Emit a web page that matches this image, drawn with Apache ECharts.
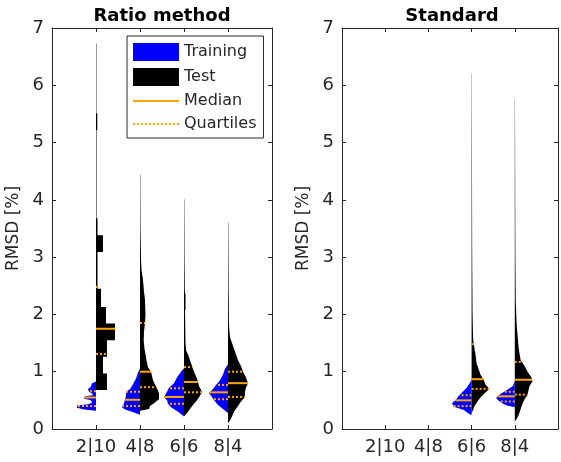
<!DOCTYPE html>
<html>
<head>
<meta charset="utf-8">
<script src="https://cdn.jsdelivr.net/npm/echarts@6/dist/echarts.min.js"></script>
<style>
html, body { margin: 0; padding: 0; background: #fff; }
#chart { width: 561px; height: 462px; }
</style>
</head>
<body>
<div id="chart"></div>
<script>
// tick labels: training|test split
const categories = ['2|10', '4|8', '6|6', '8|4'];

// violin halves as [RMSD %, density]
// ---- Ratio method ----
const ratioTrain210 = [[0.32,0],[0.34,12],[0.37,19],[0.41,19],[0.43,8],[0.46,4],[0.50,5],[0.53,12],[0.57,11],[0.59,3],[0.62,4],[0.65,7],[0.70,8],[0.74,5],[0.80,4],[0.83,0]];
const ratioTest210 = [[0.68,0],[0.68,11],[0.97,11],[0.97,7],[1.26,7],[1.26,11],[1.55,11],[1.55,19],[1.84,19],[1.84,10],[2.13,10],[2.13,5],[2.45,5],[2.45,1.5],[3.09,1.5],[3.09,7],[3.38,7],[3.38,1.5],[3.68,1.5],[3.68,0.5],[5.22,0.5],[5.22,1.3],[5.51,1.3],[5.51,0.4],[6.73,0.4],[6.73,0]];
const ratioTrain48 = [[0.25,0],[0.30,8],[0.34,15],[0.38,18],[0.45,16],[0.52,15],[0.58,14],[0.65,14],[0.70,10],[0.78,7],[0.88,4],[0.98,2],[1.06,0]];
const ratioTest48 = [[0.32,0],[0.35,9],[0.40,10],[0.45,14],[0.52,19],[0.63,19],[0.74,16],[0.85,13],[1.0,11],[1.08,8],[1.2,6.5],[1.4,4.5],[1.55,3.7],[1.7,4],[1.85,5],[2.0,5.5],[2.25,5],[2.4,4],[2.6,3],[2.77,1.5],[3.0,1],[3.5,0.5],[4.43,0.3],[4.45,0]];
const ratioTrain66 = [[0.22,0],[0.30,6],[0.38,13],[0.44,16],[0.50,17],[0.56,20],[0.65,17],[0.72,15],[0.80,10],[0.90,7],[1.0,3],[1.06,0]];
const ratioTest66 = [[0.22,0],[0.28,3],[0.35,6],[0.42,9],[0.50,13],[0.58,16],[0.65,18],[0.75,15],[0.83,14],[0.92,12],[1.0,10],[1.1,8],[1.2,6],[1.3,4],[1.38,2],[1.5,1.5],[2.05,1],[2.1,1.5],[2.35,1.5],[2.4,0.8],[3.0,0.5],[4.0,0.3],[4.02,0]];
const ratioTrain84 = [[0.28,0],[0.35,5],[0.42,10],[0.50,14],[0.56,16],[0.63,19],[0.70,15],[0.77,12],[0.85,8],[0.95,5],[1.05,3],[1.13,0]];
const ratioTest84 = [[0.10,0],[0.15,2],[0.22,4],[0.30,6],[0.40,10],[0.48,13],[0.56,17],[0.65,17],[0.72,18],[0.80,20],[0.90,18],[1.0,15],[1.1,13],[1.2,10],[1.3,8],[1.4,6],[1.5,4],[1.6,2],[1.8,1],[2.5,0.6],[3.6,0.3],[3.62,0]];
// [lower quartile, median, upper quartile]
const ratioTrainStats = [[0.40,0.55,0.66],[0.40,0.51,0.65],[0.44,0.56,0.71],[0.52,0.64,0.77]];
const ratioTestStats = [[1.31,1.75,2.48],[0.73,1.00,1.85],[0.64,0.82,1.08],[0.56,0.80,1.00]];

// ---- Standard ----
const stdTrain66 = [[0.24,0],[0.28,4],[0.33,8],[0.39,18],[0.45,20],[0.51,16],[0.58,13],[0.65,9],[0.72,5],[0.80,2],[0.86,0]];
const stdTest66 = [[0.28,0],[0.33,1.5],[0.40,3],[0.48,6],[0.55,9],[0.62,13],[0.70,18],[0.78,14],[0.87,12],[0.95,9],[1.05,7],[1.15,5],[1.3,4],[1.5,2],[1.6,1.5],[2.0,1],[3.0,0.6],[6.2,0.2],[6.22,0]];
const stdTrain84 = [[0.38,0],[0.41,8],[0.45,13],[0.50,17],[0.54,19],[0.58,17],[0.63,13],[0.68,8],[0.75,2],[0.84,0]];
const stdTest84 = [[0.13,0],[0.18,2],[0.25,4],[0.35,6],[0.45,8],[0.52,10],[0.60,13],[0.68,14],[0.75,15],[0.83,18],[0.90,17],[1.0,13],[1.1,10],[1.2,6],[1.4,4],[1.6,3],[1.8,2],[2.2,1],[3.0,0.6],[5.75,0.2],[5.77,0]];
const stdTrainStats = [null, null, [0.40,0.50,0.59], [0.48,0.57,0.65]];
const stdTestStats = [null, null, [0.70,0.87,1.48], [0.60,0.86,1.17]];

const ratioTrain = [ratioTrain210, ratioTrain48, ratioTrain66, ratioTrain84];
const ratioTest = [ratioTest210, ratioTest48, ratioTest66, ratioTest84];
const stdTrain = [null, null, stdTrain66, stdTrain84];
const stdTest = [null, null, stdTest66, stdTest84];

const DENS = 1 / 44;        // density -> x units
const ORANGE = '#ffa500';
const INK = '#262626';
const FONT = 'DejaVu Sans';

function widthAt(prof, v) {
    for (let i = 0; i < prof.length - 1; i++) {
        const a = prof[i], b = prof[i + 1];
        if (b[0] > a[0] && v >= a[0] && v < b[0]) {
            return a[1] + (b[1] - a[1]) * (v - a[0]) / (b[0] - a[0]);
        }
    }
    return 0;
}

function violinHalf(profiles, stats, side) {
    return function (params, api) {
        const x = api.value(0);
        const prof = profiles[x - 1];
        const pt = (v, d) => api.coord([x + side * d * DENS, v]);
        const children = [{
            type: 'polygon',
            shape: { points: prof.map(p => pt(p[0], p[1])) },
            style: { fill: api.visual('color') }
        }];
        stats[x - 1].forEach((v, j) => {
            const a = pt(v, 0), b = pt(v, widthAt(prof, v));
            children.push({
                type: 'line',
                shape: { x1: a[0], y1: a[1], x2: b[0], y2: b[1] },
                style: { stroke: ORANGE, lineWidth: 2, lineDash: j === 1 ? null : [2, 2] }
            });
        });
        return { type: 'group', children: children };
    };
}

function present(arr) {
    const out = [];
    arr.forEach((p, i) => { if (p) out.push([i + 1, 0]); });
    return out;
}

function axesFor(g, yName) {
    const line = { show: true, onZero: false, lineStyle: { color: INK, width: 1 } };
    const tick = { show: true, inside: true, length: 4, lineStyle: { color: INK } };
    return {
        x: [{
            gridIndex: g, type: 'value', min: 0, max: 5, interval: 1, position: 'bottom',
            axisLine: line, axisTick: tick, splitLine: { show: false },
            axisLabel: {
                fontSize: 18, color: INK, fontFamily: FONT, margin: 9,
                formatter: v => categories[v - 1] || ''
            }
        }, {
            gridIndex: g, type: 'value', min: 0, max: 5, interval: 1, position: 'top',
            axisLine: line, axisTick: tick, splitLine: { show: false }, axisLabel: { show: false }
        }],
        y: [{
            gridIndex: g, type: 'value', min: 0, max: 7, interval: 1, position: 'left',
            name: yName, nameLocation: 'middle', nameGap: 30,
            nameTextStyle: { fontSize: 17, color: INK, fontFamily: FONT },
            axisLine: line, axisTick: tick, splitLine: { show: false },
            axisLabel: { fontSize: 18, color: INK, fontFamily: FONT, margin: 8 }
        }, {
            gridIndex: g, type: 'value', min: 0, max: 7, interval: 1, position: 'right',
            axisLine: line, axisTick: tick, splitLine: { show: false }, axisLabel: { show: false }
        }]
    };
}

const a0 = axesFor(0, 'RMSD [%]');
const a1 = axesFor(1, 'RMSD [%]');

const chart = echarts.init(document.getElementById('chart'));
chart.setOption({
    animation: false,
    backgroundColor: '#fff',
    textStyle: { fontFamily: FONT },
    grid: [
        { left: 52, top: 28, width: 220, height: 401 },
        { left: 342, top: 28, width: 220, height: 401 }
    ],
    xAxis: a0.x.concat(a1.x),
    yAxis: a0.y.concat(a1.y),
    graphic: [
        { type: 'text', x: 162, y: 16, style: { text: 'Ratio method', font: 'bold 18px "DejaVu Sans"', fill: '#000', align: 'center', verticalAlign: 'middle' } },
        { type: 'text', x: 452, y: 16, style: { text: 'Standard', font: 'bold 18px "DejaVu Sans"', fill: '#000', align: 'center', verticalAlign: 'middle' } }
    ],
    legend: {
        left: 127, top: 36, orient: 'vertical',
        backgroundColor: '#fff', borderColor: INK, borderWidth: 1,
        padding: [7, 7, 6, 5], itemGap: 7, itemWidth: 46, itemHeight: 18,
        textStyle: { fontSize: 16, color: INK, fontFamily: FONT },
        data: [
            { name: 'Training', icon: 'rect' },
            { name: 'Test', icon: 'rect' },
            { name: 'Median', itemStyle: { opacity: 0 } },
            { name: 'Quartiles', itemStyle: { opacity: 0 } }
        ]
    },
    series: [
        { name: 'Training', type: 'custom', xAxisIndex: 0, yAxisIndex: 0, itemStyle: { color: '#0000ff' },
          data: present(ratioTrain), renderItem: violinHalf(ratioTrain, ratioTrainStats, -1) },
        { name: 'Test', type: 'custom', xAxisIndex: 0, yAxisIndex: 0, itemStyle: { color: '#000' },
          data: present(ratioTest), renderItem: violinHalf(ratioTest, ratioTestStats, 1) },
        { name: 'Training', type: 'custom', xAxisIndex: 2, yAxisIndex: 2, itemStyle: { color: '#0000ff' },
          data: present(stdTrain), renderItem: violinHalf(stdTrain, stdTrainStats, -1) },
        { name: 'Test', type: 'custom', xAxisIndex: 2, yAxisIndex: 2, itemStyle: { color: '#000' },
          data: present(stdTest), renderItem: violinHalf(stdTest, stdTestStats, 1) },
        { name: 'Median', type: 'line', xAxisIndex: 0, yAxisIndex: 0, data: [], symbol: 'none',
          itemStyle: { color: ORANGE }, lineStyle: { color: ORANGE, width: 2 } },
        { name: 'Quartiles', type: 'line', xAxisIndex: 0, yAxisIndex: 0, data: [], symbol: 'none',
          itemStyle: { color: ORANGE }, lineStyle: { color: ORANGE, width: 2, type: [2, 2] } }
    ]
});
</script>
</body>
</html>
